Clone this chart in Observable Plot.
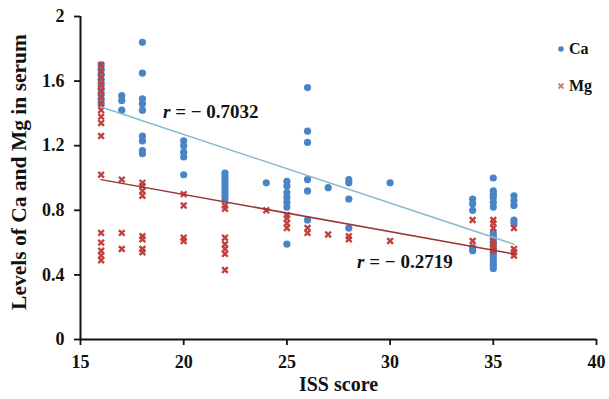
<!DOCTYPE html>
<html>
<head>
<meta charset="utf-8">
<script src="https://cdn.jsdelivr.net/npm/d3@7"></script>
<script src="https://cdn.jsdelivr.net/npm/@observablehq/plot@0.6"></script>
<style>
  body { margin: 0; background: #fff; }
  #wrap { position: relative; width: 609px; height: 399px; }
  #legend { position: absolute; left: 557px; top: 30px; font-family: 'Liberation Serif', serif; font-weight: bold; font-size: 16px; color: #111; }
  #legend div { height: 37px; display: flex; align-items: center; }
  #legend svg { margin-right: 4px; }
</style>
</head>
<body>
<div id="wrap"></div>
<script>
// ---- data ----
const xTicks = [15, 20, 25, 30, 35, 40];
const yTicks = [0, 0.4, 0.8, 1.2, 1.6, 2];
const yTickLabels = ["0", "0.4", "0.8", "1.2", "1.6", "2"];
const xTitle = "ISS score";
const yTitle = "Levels of Ca and Mg in serum";
const seriesNames = ["Ca", "Mg"];

const caX = [16,16,16,16,16,16,16,16,16, 17,17,17, 18,18,18,18,18,18,18,18,18, 20,20,20,20,20,
  22,22,22,22,22,22,22,22,22, 24, 25,25,25,25,25,25,25, 26,26,26,26,26,26, 27, 28,28,28,28, 30,
  34,34,34,34,34, 35,35,35,35,35,35,35,35,35,35,35,35,35,35,35,35,35,35, 36,36,36,36,36];
const caY = [1.70,1.67,1.64,1.61,1.58,1.55,1.52,1.49,1.46, 1.51,1.48,1.42, 1.84,1.65,1.49,1.46,1.42,1.26,1.23,1.17,1.15, 1.23,1.20,1.16,1.13,1.02,
  1.03,1.01,0.99,0.97,0.95,0.93,0.91,0.89,0.87, 0.97, 0.98,0.95,0.91,0.88,0.85,0.82,0.59, 1.56,1.29,1.22,0.99,0.92,0.74, 0.94, 0.99,0.97,0.87,0.69, 0.97,
  0.87,0.84,0.80,0.57,0.55, 1.00,0.92,0.90,0.88,0.85,0.82,0.66,0.64,0.62,0.60,0.58,0.56,0.54,0.52,0.50,0.48,0.46,0.44, 0.89,0.86,0.83,0.74,0.72];

const mgX = [16,16,16,16,16,16,16,16,16,16,16,16,16,16,16,16,16, 17,17,17, 18,18,18,18,18,18,18,18, 20,20,20,20,
  22,22,22,22,22,22,22, 24, 25,25,25,25, 26,26, 27, 28,28, 30, 34,34, 35,35,35,35,35,35,35, 36,36,36,36];
const mgY = [1.70,1.66,1.62,1.58,1.54,1.50,1.46,1.42,1.38,1.34,1.26,1.02,0.66,0.60,0.55,0.52,0.49, 0.99,0.66,0.56, 0.97,0.95,0.92,0.89,0.64,0.62,0.56,0.54, 0.90,0.83,0.63,0.61,
  0.83,0.81,0.63,0.59,0.56,0.53,0.43, 0.80, 0.77,0.75,0.72,0.69, 0.69,0.66, 0.65, 0.64,0.62, 0.61, 0.74,0.61, 0.74,0.72,0.69,0.61,0.59,0.57,0.55, 0.69,0.56,0.54,0.52];

// fitted trend lines (end points)
const fitX = [16, 36];
const caFitY = [1.44, 0.59];
const mgFitY = [0.99, 0.53];

// correlation annotations
const rSymbol = "r";
const rValues = ["= \u2212 0.7032", "= \u2212 0.2719"];
const rX = [19.0, 28.4];
const rY = [1.41, 0.48];

const caColor = "#4884c6";
const mgColor = "#c2413f";

const ca = caX.map((x, i) => ({x, y: caY[i]}));
const mg = mgX.map((x, i) => ({x, y: mgY[i]}));
const caFit = fitX.map((x, i) => ({x, y: caFitY[i]}));
const mgFit = fitX.map((x, i) => ({x, y: mgFitY[i]}));
const rAnn = rValues.map((t, i) => ({x: rX[i], y: rY[i], t: rSymbol + " " + t}));

const plot = Plot.plot({
  width: 609,
  height: 399,
  marginLeft: 80,
  marginRight: 13,
  marginTop: 16,
  marginBottom: 60,
  style: {fontFamily: "'Liberation Serif', serif", fontWeight: "bold", fontSize: "18px", background: "white", color: "#111"},
  x: {domain: [15, 40]},
  y: {domain: [0, 2]},
  marks: [
    Plot.axisX({ticks: xTicks, tickSize: 6, tickPadding: 10, label: null, strokeWidth: 1.8, fontSize: 18}),
    Plot.axisY({ticks: yTicks, tickSize: 6, tickPadding: 10, label: null, strokeWidth: 1.8, fontSize: 18,
      tickFormat: d => yTickLabels[yTicks.indexOf(d)]}),
    Plot.ruleX([15], {y1: 0, y2: 2, strokeWidth: 2}),
    Plot.ruleY([0], {x1: 15, x2: 40, strokeWidth: 2}),
    Plot.dot(ca, {x: "x", y: "y", r: 3.6, fill: caColor, stroke: "none"}),
    Plot.dot(mg, {x: "x", y: "y", r: 2.7, symbol: "times", stroke: mgColor, strokeWidth: 2.4}),
    Plot.line(caFit, {x: "x", y: "y", stroke: "#86bccb", strokeWidth: 1.5}),
    Plot.line(mgFit, {x: "x", y: "y", stroke: "#9b3433", strokeWidth: 1.5}),
    Plot.text(rAnn, {x: "x", y: "y", text: "t", textAnchor: "start", fontSize: 19, fill: "#111", className: "rlab"}),
    Plot.text([xTitle], {frameAnchor: "bottom", dy: 51, fontSize: 20, fill: "#111"}),
    Plot.text([yTitle], {frameAnchor: "left", textAnchor: "middle", dx: -61, dy: -6, rotate: -90, fontSize: 21.5, fill: "#111"})
  ]
});

document.getElementById("wrap").appendChild(plot);

// italic "r" in annotations
d3.select(plot).selectAll(".rlab text").each(function () {
  const full = this.textContent;
  const rest = full.slice(rSymbol.length);
  const sel = d3.select(this);
  sel.text(null);
  sel.append("tspan").attr("font-style", "italic").text(rSymbol);
  sel.append("tspan").text(rest);
});

// legend
const legend = d3.select("#wrap").append("div").attr("id", "legend");
const leg1 = legend.append("div");
leg1.append("svg").attr("width", 8).attr("height", 8)
  .append("circle").attr("cx", 4).attr("cy", 4).attr("r", 2.8).attr("fill", caColor);
leg1.append("span").text(seriesNames[0]);
const leg2 = legend.append("div");
const s2 = leg2.append("svg").attr("width", 8).attr("height", 8);
s2.append("path").attr("d", "M1.5,1.5L6.5,6.5M6.5,1.5L1.5,6.5").attr("stroke", mgColor).attr("stroke-width", 1.8).attr("opacity", 0.7);
leg2.append("span").text(seriesNames[1]);
</script>
</body>
</html>
